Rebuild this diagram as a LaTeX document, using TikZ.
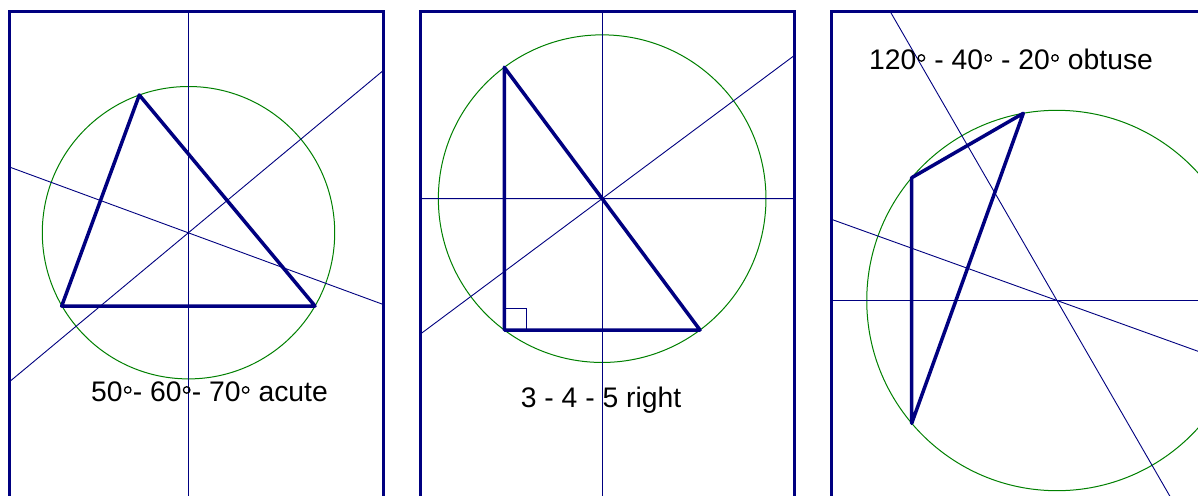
\documentclass[tikz,border=0pt]{standalone}
\usepackage{fontspec}
\setmainfont{Liberation Sans}
\usetikzlibrary{calc}
\definecolor{navy}{RGB}{0,0,128}
\definecolor{circgreen}{RGB}{0,128,0}
\newcommand{\dgr}{\hbox to 0.36em{\hss\tikz[baseline=0pt]{\draw[black,line width=0.045em] (0,0.39em) circle (0.115em);}\hss}}
\begin{document}
\begin{tikzpicture}[x=1pt,y=-1pt,
  frame/.style={navy,line width=3pt,line join=miter},
  tri/.style={navy,line width=3.5pt,line join=round},
  bis/.style={navy,line width=0.9pt},
  circ/.style={circgreen,line width=1pt},
  lbl/.style={anchor=base,inner sep=0pt,text=black,font=\fontsize{28.3}{33}\selectfont}]
\useasboundingbox (0,0) rectangle (1198,495);
\fill[white] (0,0) rectangle (1198,495);
\clip (0,0) rectangle (1198,495);

% ---------- panel 1 : acute ----------
\coordinate (A1) at (139.3,95);
\coordinate (B1) at (61.7,306);
\coordinate (C1) at (315,306);
\coordinate (O1) at (188.5,232.7);
\begin{scope}
  \clip (9.7,11.7) rectangle (383.3,520);
  \draw[circ] (O1) circle (146.2pt);
  \draw[bis] ($(B1)!.5!(C1)!8!90:(C1)$) -- ($(B1)!.5!(C1)!-8!90:(C1)$);
  \draw[bis] ($(A1)!.5!(B1)!8!90:(B1)$) -- ($(A1)!.5!(B1)!-8!90:(B1)$);
  \draw[bis] ($(A1)!.5!(C1)!8!90:(C1)$) -- ($(A1)!.5!(C1)!-8!90:(C1)$);
  \draw[tri] (A1) -- (B1) -- (C1) -- cycle;
\end{scope}
\draw[frame] (9.7,520) -- (9.7,11.7) -- (383.3,11.7) -- (383.3,520);
\node[lbl] (L1) at (209.5,401) {50\dgr- 60\dgr- 70\dgr\ acute};

% ---------- panel 2 : right ----------
\coordinate (A2) at (504.3,67.3);
\coordinate (B2) at (504.3,330);
\coordinate (C2) at (700,330);
\coordinate (O2) at (602.15,198.65);
\begin{scope}
  \clip (420,11.7) rectangle (794.3,520);
  \draw[circ] (O2) circle (163.8pt);
  \draw[bis] ($(B2)!.5!(C2)!8!90:(C2)$) -- ($(B2)!.5!(C2)!-8!90:(C2)$);
  \draw[bis] ($(A2)!.5!(B2)!8!90:(B2)$) -- ($(A2)!.5!(B2)!-8!90:(B2)$);
  \draw[bis] ($(A2)!.5!(C2)!8!90:(C2)$) -- ($(A2)!.5!(C2)!-8!90:(C2)$);
  \draw[bis] (B2) rectangle ++(21.7,-21.7);
  \draw[tri] (A2) -- (B2) -- (C2) -- cycle;
\end{scope}
\draw[frame] (420,520) -- (420,11.7) -- (794.3,11.7) -- (794.3,520);
\node[lbl] (L2) at (601,407) {3 - 4 - 5 right};

% ---------- panel 3 : obtuse ----------
\coordinate (A3) at (911.7,177.7);
\coordinate (B3) at (911.7,423.3);
\coordinate (C3) at (1023.3,113.3);
\coordinate (O3) at (1056.95,300.5);
\begin{scope}
  \clip (831.7,11.7) rectangle (1205.3,520);
  \draw[circ] (O3) circle (190.2pt);
  \draw[bis] ($(A3)!.5!(B3)!8!90:(B3)$) -- ($(A3)!.5!(B3)!-8!90:(B3)$);
  \draw[bis] ($(A3)!.5!(C3)!8!90:(C3)$) -- ($(A3)!.5!(C3)!-8!90:(C3)$);
  \draw[bis] ($(B3)!.5!(C3)!8!90:(C3)$) -- ($(B3)!.5!(C3)!-8!90:(C3)$);
  \draw[tri] (A3) -- (B3) -- (C3) -- cycle;
\end{scope}
\draw[frame] (831.7,520) -- (831.7,11.7) -- (1205.3,11.7) -- (1205.3,520);
\node[lbl] (L3) at (1011,69) {120\dgr\ - 40\dgr\ - 20\dgr\ obtuse};
\end{tikzpicture}
\end{document}
